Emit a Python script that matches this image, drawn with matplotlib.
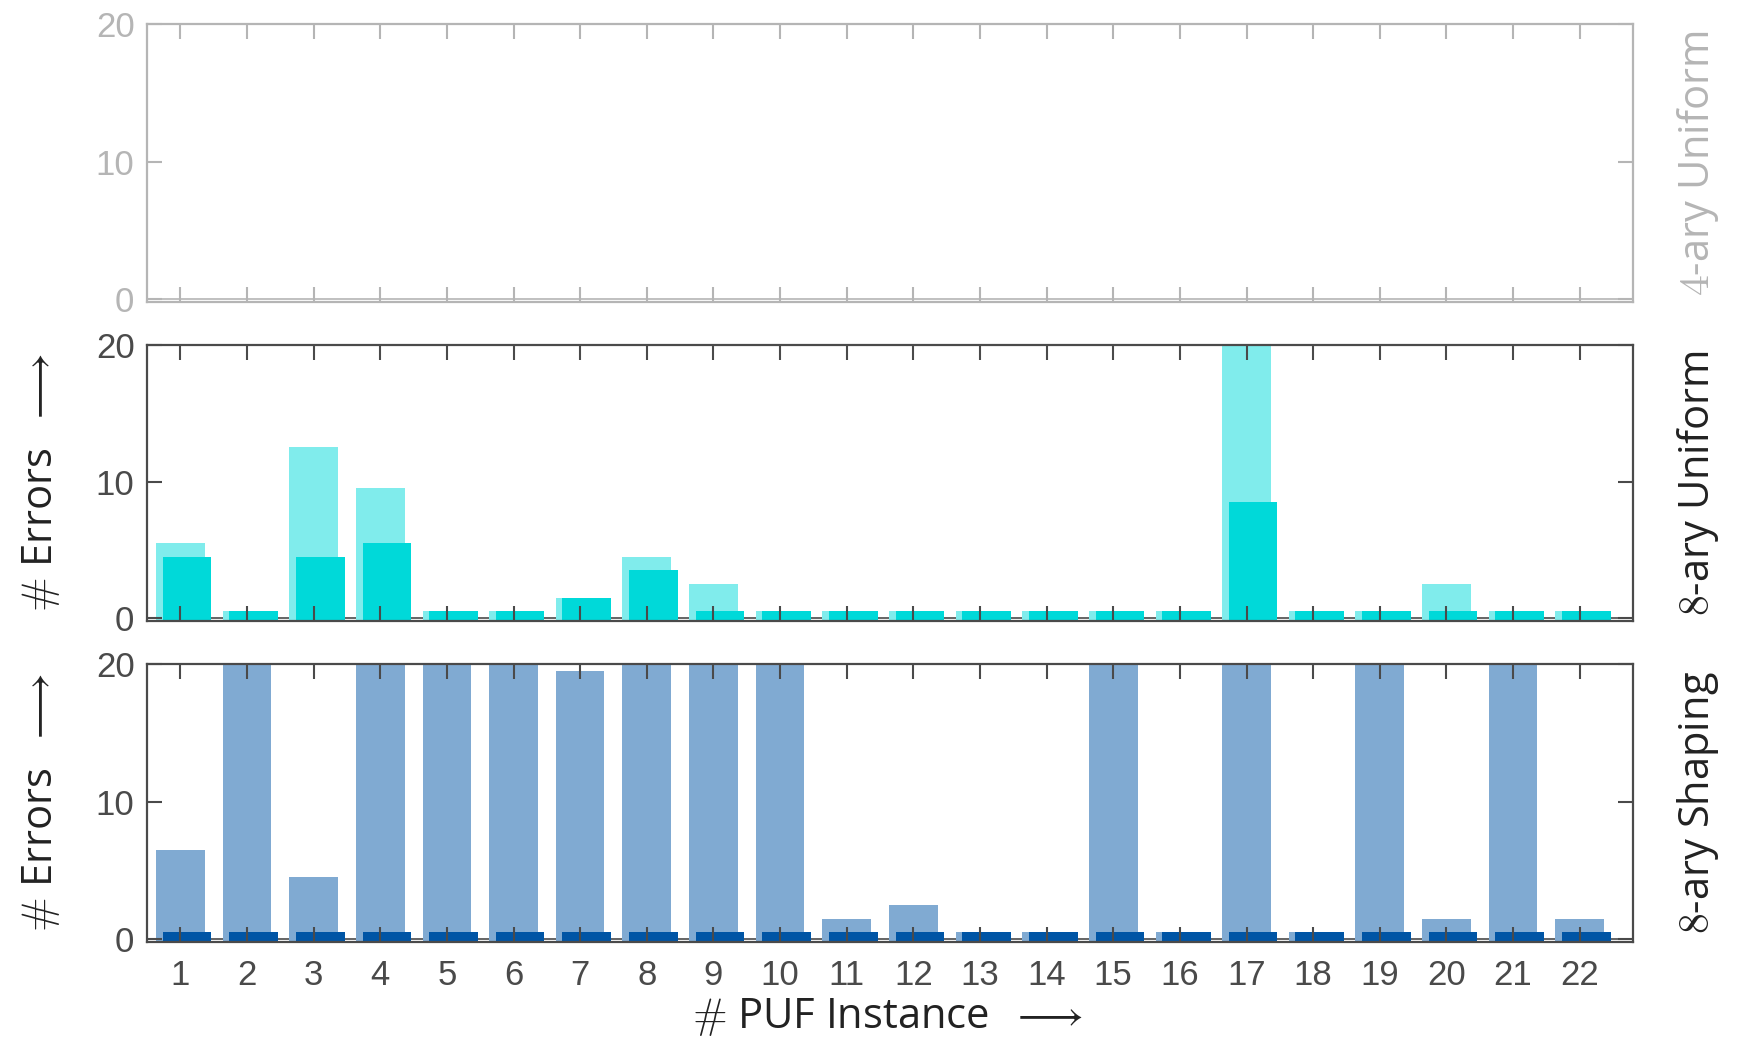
import matplotlib
matplotlib.use("Agg")
import matplotlib.pyplot as plt
import numpy as np

plt.rcParams['mathtext.fontset'] = 'cm'
plt.rcParams['font.family'] = ['Liberation Sans', 'DejaVu Sans']

# ---- data -------------------------------------------------------------
instances = list(range(1, 23))
tick_labels = [str(i) for i in instances]

# 8-ary uniform: two runs per PUF instance (light = first, dark = second)
uni8_light = [5.5, 0.5, 12.5, 9.5, 0.5, 0.5, 1.5, 4.5, 2.5, 0.5, 0.5,
              0.5, 0.5, 0.5, 0.5, 0.5, 30.0, 0.5, 0.5, 2.5, 0.5, 0.5]
uni8_dark = [4.5, 0.5, 4.5, 5.5, 0.5, 0.5, 1.5, 3.5, 0.5, 0.5, 0.5,
             0.5, 0.5, 0.5, 0.5, 0.5, 8.5, 0.5, 0.5, 0.5, 0.5, 0.5]

# 8-ary shaping
shp8_light = [6.5, 30.0, 4.5, 30.0, 30.0, 30.0, 19.5, 30.0, 30.0, 30.0, 1.5,
              2.5, 0.5, 0.5, 30.0, 0.5, 30.0, 0.5, 30.0, 1.5, 30.0, 1.5]
shp8_dark = [0.5, 0.5, 0.5, 0.5, 0.5, 0.5, 0.5, 0.5, 0.5, 0.5, 0.5,
             0.5, 0.5, 0.5, 0.5, 0.5, 0.5, 0.5, 0.5, 0.5, 0.5, 0.5]

row_titles = [r'$4$-ary Uniform', r'$8$-ary Uniform', r'$8$-ary Shaping']
ylabel_text = r'$\#$ Errors  $\longrightarrow$'
xlabel_text = r'$\#$ PUF Instance  $\longrightarrow$'

# ---- style --------------------------------------------------------------
CYAN_L, CYAN_D = '#80ecec', '#00d9d9'
BLUE_L, BLUE_D = '#80aad2', '#0055a5'
AX_DARK = '#4a4a4a'
AX_FADE = '#b5b5b5'
TXT = '#222222'
LAB_FONT = ['Open Sans', 'DejaVu Sans']
LAB_SIZE = 30
TICK_SIZE = 25

BAR_W = 0.73
SHIFT = 0.1
Y_LOW = -0.2

W_PX, H_PX = 1744, 1041
fig = plt.figure(figsize=(W_PX / 100, H_PX / 100), dpi=100)


def rect(top_px, bot_px, left_px=147, right_px=1633):
    return [left_px / W_PX, 1 - bot_px / H_PX,
            (right_px - left_px) / W_PX, (bot_px - top_px) / H_PX]


ax_top = fig.add_axes(rect(24, 302))
ax_mid = fig.add_axes(rect(345, 621))
ax_bot = fig.add_axes(rect(664, 942))


def style(ax, color, xlabels):
    ax.set_xlim(0.5, 22.8)
    ax.set_ylim(Y_LOW, 20)
    ax.set_xticks(instances)
    ax.set_yticks([0, 10, 20])
    ax.tick_params(direction='in', length=11, width=1.5, color=color,
                   labelcolor=color, top=True, right=True,
                   labelsize=TICK_SIZE, pad=9)
    ax.tick_params(axis='x', pad=12)
    for s in ax.spines.values():
        s.set_color(color)
        s.set_linewidth(1.6)
    ax.axhline(0, color=color, lw=1.2, zorder=0.5)
    if xlabels:
        ax.set_xticklabels(tick_labels)
    else:
        ax.set_xticklabels([])


def pair_bars(ax, light, dark, c_light, c_dark):
    x = np.array(instances, dtype=float)
    light = np.asarray(light)
    dark = np.asarray(dark)
    ax.bar(x, light - Y_LOW, bottom=Y_LOW, width=BAR_W, color=c_light,
           edgecolor='none', zorder=1)
    ax.bar(x + SHIFT, dark - Y_LOW, bottom=Y_LOW, width=BAR_W, color=c_dark,
           edgecolor='none', zorder=1.1)


style(ax_top, AX_FADE, False)
style(ax_mid, AX_DARK, False)
style(ax_bot, AX_DARK, True)

pair_bars(ax_mid, uni8_light, uni8_dark, CYAN_L, CYAN_D)
pair_bars(ax_bot, shp8_light, shp8_dark, BLUE_L, BLUE_D)

# row titles on the right
for ax, title, col in zip([ax_top, ax_mid, ax_bot], row_titles, [AX_FADE, TXT, TXT]):
    pos = ax.get_position()
    fig.text(1698 / W_PX, (pos.y0 + pos.y1) / 2, title, rotation=90,
             ha='center', va='center', fontsize=LAB_SIZE, family=LAB_FONT,
             color=col)

# y labels
for ax in [ax_mid, ax_bot]:
    pos = ax.get_position()
    fig.text(41 / W_PX, (pos.y0 + pos.y1) / 2, ylabel_text, rotation=90,
             ha='center', va='center', fontsize=LAB_SIZE, family=LAB_FONT,
             color=TXT)

# x label
fig.text(888 / W_PX, 1 - 1017 / H_PX, xlabel_text, ha='center', va='center',
         fontsize=LAB_SIZE, family=LAB_FONT, color=TXT)

fig.savefig('out.png', dpi=100)
